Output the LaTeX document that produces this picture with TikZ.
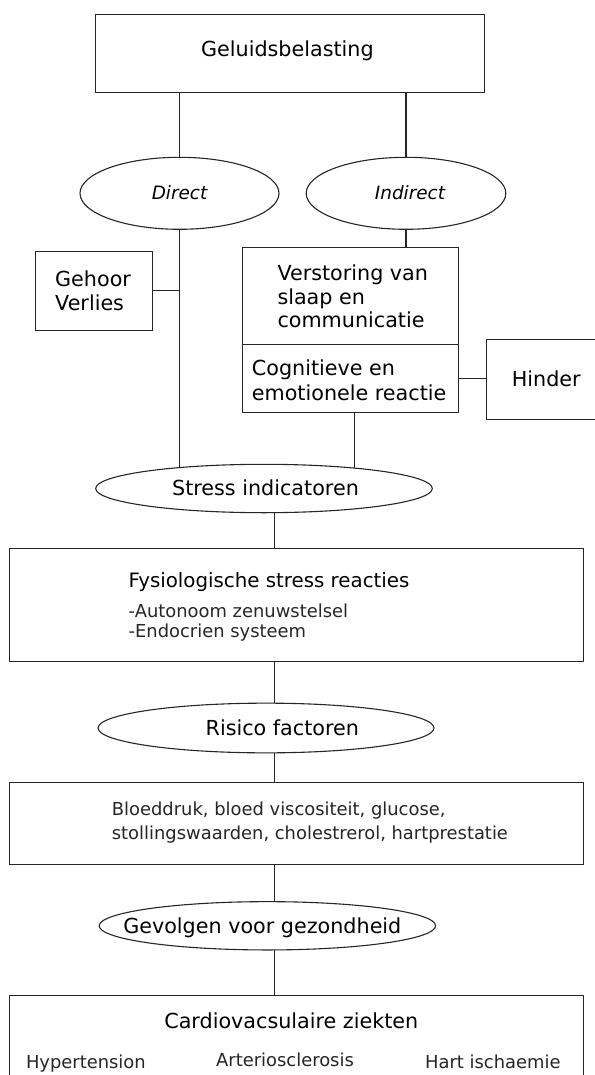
\documentclass[tikz,border=0pt]{standalone}
\usepackage{fontspec}
\setmainfont{DejaVu Sans}
\usetikzlibrary{shapes.geometric,backgrounds}
\begin{document}
\begin{tikzpicture}[x=1pt,y=-1pt,
  box/.style={draw=black!85,line width=1.1pt,fill=white,rectangle,inner sep=0pt,anchor=north west},
  ell/.style={draw=black!85,line width=1.1pt,fill=white,ellipse,inner sep=0pt},
  conn/.style={draw=black!85,line width=1.1pt},
  lbl/.style={inner sep=0pt,font=\fontsize{20.7}{24}\selectfont},
  thin/.style={inner sep=0pt,font=\fontsize{17.9}{21}\selectfont,text=black!85},
  ital/.style={inner sep=0pt,font=\fontsize{18.4}{21}\selectfont\itshape},
]
\useasboundingbox (0,0) rectangle (594,1075);

% boxes
\node[box,minimum width=388.7pt,minimum height=78pt] (top) at (95,14.3) {};
\node[box,minimum width=117.3pt,minimum height=79.3pt] (gehoor) at (35,250.7) {};
\node[box,minimum width=216pt,minimum height=97.6pt] (verst) at (241.7,246.7) {};
\node[box,minimum width=216pt,minimum height=68pt] (cogn) at (241.7,344.3) {};
\node[box,minimum width=120pt,minimum height=79.7pt] (hinder) at (486,339) {};
\node[box,minimum width=573.3pt,minimum height=112.4pt] (fysio) at (9.3,548.3) {};
\node[box,minimum width=573.6pt,minimum height=82.3pt] (bloed) at (9,781.7) {};
\node[box,minimum width=573.6pt,minimum height=110pt] (cardio) at (9,995) {};

% ellipses
\node[ell,minimum width=199pt,minimum height=72pt] (direct) at (179.5,193.3) {};
\node[ell,minimum width=199.6pt,minimum height=72pt] (indirect) at (406,193.3) {};
\node[ell,minimum width=336.6pt,minimum height=48.4pt] (stress) at (264,488.5) {};
\node[ell,minimum width=336pt,minimum height=49.7pt] (risico) at (266,728) {};
\node[ell,minimum width=336.4pt,minimum height=48.3pt] (gevolgen) at (267.4,925.8) {};

% texts
\node[lbl,anchor=base] (tgel) at (287.4,56.3) {Geluidsbelasting};
\node[ital,anchor=base] (tdir) at (179.5,200) {Direct};
\node[ital,anchor=base] (tind) at (410,200) {Indirect};
\node[lbl,anchor=base west] (tgeh1) at (55,286.8) {Gehoor};
\node[lbl,anchor=base west] (tgeh2) at (55,310.2) {Verlies};
\node[lbl,anchor=base west] (tver1) at (277.3,280) {Verstoring van};
\node[lbl,anchor=base west] (tver2) at (277.3,304) {slaap en};
\node[lbl,anchor=base west] (tver3) at (277.3,327.7) {communicatie};
\node[lbl,anchor=base west] (tcog1) at (251.7,375.7) {Cognitieve en};
\node[lbl,anchor=base west] (tcog2) at (251.7,400) {emotionele reactie};
\node[lbl,anchor=base west] (thin) at (511.7,386.7) {Hinder};
\node[lbl,anchor=base] (tstr) at (265.5,495) {Stress indicatoren};
\node[lbl,anchor=base west,font=\fontsize{19.8}{24}\selectfont] (tfys1) at (128.5,587.8) {Fysiologische stress reacties};
\node[thin,anchor=base west] (tfys2) at (128.5,617) {-Autonoom zenuwstelsel};
\node[thin,anchor=base west] (tfys3) at (128.5,637.5) {-Endocrien systeem};
\node[lbl,anchor=base] (tris) at (282.3,735) {Risico factoren};
\node[thin,anchor=base west] (tblo1) at (111.7,815) {Bloeddruk, bloed viscositeit, glucose,};
\node[thin,anchor=base west] (tblo2) at (111.7,839.5) {stollingswaarden, cholestrerol, hartprestatie};
\node[lbl,anchor=base] (tgev) at (262.3,933.3) {Gevolgen voor gezondheid};
\node[lbl,anchor=base] (tcar) at (291.3,1028.3) {Cardiovacsulaire ziekten};
\node[thin,anchor=base west] (thyp) at (25.8,1068.5) {Hypertension};
\node[thin,anchor=base west] (tart) at (216,1066.7) {Arteriosclerosis};
\node[thin,anchor=base west] (thar) at (425,1068.5) {Hart ischaemie};

% connectors
\begin{scope}[on background layer]
\draw[conn] (direct.north) -- (direct.north |- top.south);
\draw[conn] (indirect.north) -- (indirect.north |- top.south);
\draw[conn] (direct.south) -- (direct.south |- stress.center);
\draw[conn] (gehoor.east) -- (gehoor.east -| direct.south);
\draw[conn] (indirect.south) -- (indirect.south |- verst.north);
\draw[conn] (cogn.east) -- (cogn.east -| hinder.west);
\coordinate (cdrop) at ([xshift=4.3pt]cogn.south);
\draw[conn] (cdrop) -- (cdrop |- stress.center);
\coordinate (spine) at (274.5,0);
\draw[conn] (spine |- stress.center) -- (spine |- fysio.north);
\draw[conn] (spine |- fysio.south) -- (spine |- risico.center);
\draw[conn] (spine |- risico.center) -- (spine |- bloed.north);
\draw[conn] (spine |- bloed.south) -- (spine |- gevolgen.center);
\draw[conn] (spine |- gevolgen.center) -- (spine |- cardio.north);
\end{scope}
\end{tikzpicture}
\end{document}
